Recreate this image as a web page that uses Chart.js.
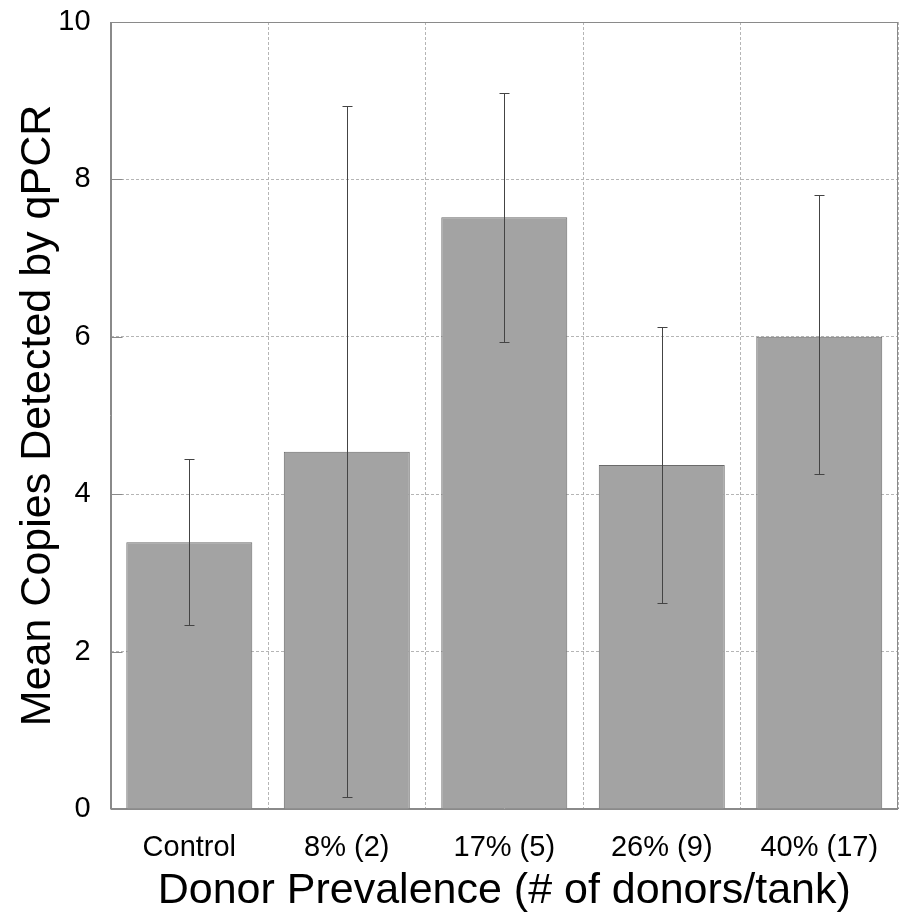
<!DOCTYPE html>
<html>
<head>
<meta charset="utf-8">
<script src="https://cdn.jsdelivr.net/npm/chart.js@4"></script>
<style>
  html, body { margin: 0; padding: 0; background: #fff; }
  #wrap { width: 904px; height: 913px; }
</style>
</head>
<body>
<div id="wrap"><canvas id="chart"></canvas></div>
<script>
// data
const categories = ['Control', '8% (2)', '17% (5)', '26% (9)', '40% (17)'];
const meanCopies = [3.39, 4.54, 7.52, 4.37, 6.00];
const errLow = [2.34, 0.15, 5.93, 2.62, 4.26];
const errHigh = [4.45, 8.93, 9.10, 6.12, 7.80];
const yTicks = [0, 2, 4, 6, 8, 10];

const FONT = "'Liberation Sans', Arial, sans-serif";

// error bars, frame and short ticks inside the left axis
const errorBars = {
    id: 'errorBars',
    afterDatasetsDraw(chart) {
        const ctx = chart.ctx;
        const x = chart.scales.x;
        const y = chart.scales.y;
        const area = chart.chartArea;
        ctx.save();
        ctx.strokeStyle = '#444';
        ctx.lineWidth = 1;
        categories.forEach((c, i) => {
            const cx = Math.round(x.getPixelForValue(i)) + 0.5;
            const top = Math.round(y.getPixelForValue(errHigh[i])) + 0.5;
            const bot = Math.round(y.getPixelForValue(errLow[i])) + 0.5;
            ctx.beginPath();
            ctx.moveTo(cx, top);
            ctx.lineTo(cx, bot);
            ctx.moveTo(cx - 5, top);
            ctx.lineTo(cx + 5, top);
            ctx.moveTo(cx - 5, bot);
            ctx.lineTo(cx + 5, bot);
            ctx.stroke();
        });
        ctx.strokeStyle = '#8a8a8a';
        ctx.strokeRect(Math.round(area.left) + 0.5, Math.round(area.top) + 0.5,
            Math.round(area.right - area.left) - 1, Math.round(area.bottom - area.top));
        yTicks.forEach(t => {
            const py = Math.round(y.getPixelForValue(t)) + 0.5;
            ctx.beginPath();
            ctx.moveTo(area.left, py);
            ctx.lineTo(area.left + 12, py);
            ctx.stroke();
        });
        ctx.restore();
    }
};

new Chart(document.getElementById('chart'), {
    type: 'bar',
    data: {
        labels: categories,
        datasets: [{
            data: meanCopies,
            backgroundColor: '#a3a3a3',
            borderColor: '#6a6a6a',
            borderWidth: 1,
            barPercentage: 0.8,
            categoryPercentage: 1.0
        }]
    },
    options: {
        responsive: true,
        maintainAspectRatio: false,
        animation: false,
        layout: { padding: { top: 22, right: 6, left: 14, bottom: -2 } },
        plugins: {
            legend: { display: false },
            tooltip: { enabled: false }
        },
        scales: {
            x: {
                grid: { offset: true, color: '#b5b5b5', drawTicks: false },
                border: { display: true, color: '#8a8a8a', width: 1, dash: [3, 2] },
                ticks: {
                    color: '#000',
                    padding: 22,
                    font: { family: FONT, size: 29 }
                },
                title: {
                    display: true,
                    text: 'Donor Prevalence (# of donors/tank)',
                    color: '#000',
                    padding: { top: -20, bottom: 0 },
                    font: { family: FONT, size: 43, lineHeight: 1.1 }
                }
            },
            y: {
                min: 0,
                max: 10,
                afterBuildTicks: (axis) => { axis.ticks = yTicks.map(v => ({ value: v })); },
                afterFit: (axis) => { axis.paddingTop = 0; axis.paddingBottom = 0; },
                grid: { color: '#b5b5b5', drawTicks: false },
                border: { display: true, color: '#8a8a8a', width: 1, dash: [3, 2] },
                ticks: {
                    color: '#000',
                    padding: 20,
                    font: { family: FONT, size: 29 }
                },
                title: {
                    display: true,
                    text: 'Mean Copies Detected by qPCR',
                    color: '#000',
                    padding: { top: 0, bottom: -23 },
                    font: { family: FONT, size: 43, lineHeight: 1.1 }
                }
            }
        }
    },
    plugins: [errorBars]
});
</script>
</body>
</html>
